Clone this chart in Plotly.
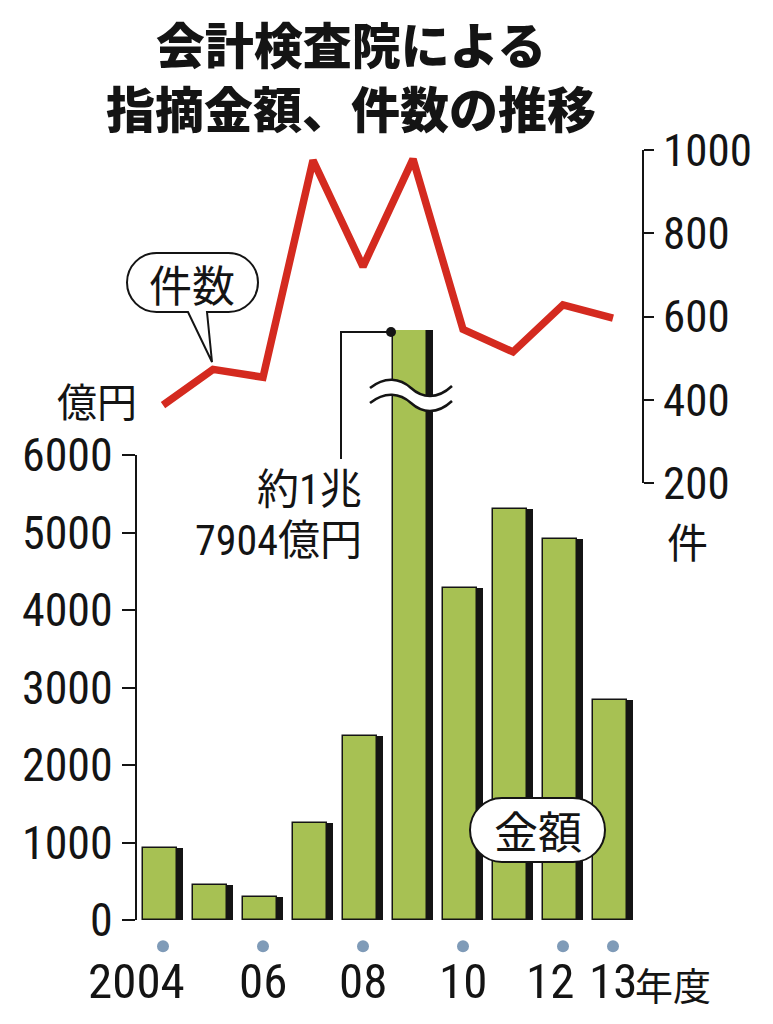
import plotly.graph_objects as go

# ---------------- data ----------------
years = [2004, 2005, 2006, 2007, 2008, 2009, 2010, 2011, 2012, 2013]
amount_oku_yen = [930, 450, 300, 1250, 2370, 17904, 4290, 5300, 4910, 2840]   # 指摘金額（億円）
case_counts = [387, 473, 454, 975, 720, 978, 569, 515, 628, 596]              # 件数
left_ticks = [0, 1000, 2000, 3000, 4000, 5000, 6000]
right_ticks = [200, 400, 600, 800, 1000]
dot_years = [2004, 2006, 2008, 2010, 2012, 2013]
x_label_years = [2004, 2006, 2008, 2010, 2012, 2013]
x_label_texts = ["2004", "06", "08", "10", "12", "13"]
title_lines = ["会計検査院による", "指摘金額、件数の推移"]

# ---------------- layout geometry (reference pixels) ----------------
W, H = 773, 1024
PL, PR, PT, PB = 136, 643, 140, 965     # plot area in reference pixels
ZERO_PX = 920                            # pixel row of value 0 on the amount axis
PAGE_OFF = 8                             # page body margin of the written html


def xp(px):
    return (px - PL) / (PR - PL)


def yp(py):
    return (PB - py) / (PB - PT)


NUM = ("Liberation Sans Narrow, Roboto Condensed, Noto Sans Condensed, Arial Narrow, "
       "DejaVu Sans Condensed, Noto Sans CJK JP, sans-serif")
CJK = "Noto Sans CJK JP, sans-serif"
INK = "#141414"
GREEN = "#a7c153"
RED = "#d42a1f"
DOT = "#7f9bb8"

bar_top_px = 330
px_per_1000 = 77.5
y_top = (ZERO_PX - bar_top_px) / px_per_1000 * 1000
y_bottom = -(PB - ZERO_PX) / px_per_1000 * 1000
px_per_case = (483 - 150) / 800.0
y2_bottom = 1000 - (PB - 150) / px_per_case
y2_top = 1000 + (150 - PT) / px_per_case

fig = go.Figure()

# bar shadow (black right edge)
fig.add_trace(go.Bar(
    x=years, y=amount_oku_yen, width=0.8, offset=-0.4,
    marker=dict(color=INK, line=dict(width=0)),
    xaxis="x", yaxis="y", showlegend=False, hoverinfo="skip"))
# bar body
fig.add_trace(go.Bar(
    x=years, y=amount_oku_yen, width=0.68, offset=-0.4,
    marker=dict(color=GREEN, line=dict(color=INK, width=1.5)),
    xaxis="x", yaxis="y", showlegend=False, name="金額"))
# dots under the year labels
fig.add_trace(go.Scatter(
    x=dot_years, y=[-340] * len(dot_years), mode="markers",
    marker=dict(color=DOT, size=12, line=dict(width=0)), cliponaxis=False,
    xaxis="x", yaxis="y", showlegend=False, hoverinfo="skip"))
# count line
fig.add_trace(go.Scatter(
    x=years, y=case_counts, mode="lines",
    line=dict(color=RED, width=7.5),
    xaxis="x", yaxis="y2", showlegend=False, name="件数"))

shapes = []
# left axis line (0-6000)
shapes.append(dict(type="line", xref="paper", yref="y", x0=0, x1=0, y0=0, y1=6000,
                   line=dict(color=INK, width=2)))
# right axis line (200-1000)
shapes.append(dict(type="line", xref="paper", yref="y2", x0=1, x1=1, y0=200, y1=1000,
                   line=dict(color=INK, width=2)))


def path_from(points_cmds):
    out = []
    for cmd, pts in points_cmds:
        if cmd == "Z":
            out.append("Z")
            continue
        coords = " ".join(f"{xp(a):.5f},{yp(b):.5f}" for a, b in pts)
        out.append(f"{cmd} {coords}")
    return " ".join(out)


# break mark on the 2009 bar
up = [(370, 388), (385, 376), (400, 378), (411, 388), (422, 398), (437, 400), (452, 386)]
dy = 15
lo = [(a, b + dy) for a, b in up]
fill_path = path_from([
    ("M", [up[0]]), ("C", up[1:4]), ("C", up[4:7]),
    ("L", [lo[6]]), ("C", [lo[5], lo[4], lo[3]]), ("C", [lo[2], lo[1], lo[0]]), ("Z", []),
])
shapes.append(dict(type="path", xref="paper", yref="paper", path=fill_path,
                   fillcolor="white", line=dict(width=0)))
for wave in (up, lo):
    shapes.append(dict(type="path", xref="paper", yref="paper",
                       path=path_from([("M", [wave[0]]), ("C", wave[1:4]), ("C", wave[4:7])]),
                       line=dict(color=INK, width=2.5)))

# leader line for the 2009 value
shapes.append(dict(type="path", xref="paper", yref="paper",
                   path=path_from([("M", [(341, 459)]), ("L", [(341, 332)]), ("L", [(391, 332)])]),
                   line=dict(color=INK, width=2)))
shapes.append(dict(type="circle", xref="paper", yref="paper",
                   x0=xp(386), x1=xp(396), y0=yp(337), y1=yp(327),
                   fillcolor=INK, line=dict(width=0)))

K = 0.5523


def pill(l, r, t, b, pointer=None):
    rad = (b - t) / 2.0
    k = K * rad
    cmds = [("M", [(l + rad, t)]), ("L", [(r - rad, t)]),
            ("C", [(r - rad + k, t), (r, t + rad - k), (r, t + rad)]),
            ("C", [(r, t + rad + k), (r - rad + k, b), (r - rad, b)])]
    if pointer:
        (bx1, tipx, tipy, bx0) = pointer
        cmds += [("L", [(bx1, b)]), ("L", [(tipx, tipy)]), ("L", [(bx0, b)])]
    cmds += [("L", [(l + rad, b)]),
             ("C", [(l + rad - k, b), (l, b - rad + k), (l, b - rad)]),
             ("C", [(l, t + rad - k), (l + rad - k, t), (l + rad, t)]),
             ("Z", [])]
    return path_from(cmds)


shapes.append(dict(type="path", xref="paper", yref="paper",
                   path=pill(127, 258, 253, 312, pointer=(207, 212, 362, 188)),
                   fillcolor="white", line=dict(color=INK, width=2)))
shapes.append(dict(type="path", xref="paper", yref="paper",
                   path=pill(470, 605, 798, 862),
                   fillcolor="white", line=dict(color=INK, width=2)))

annotations = []


def ann(text, px, py, size, family, xanchor="center", color=INK, weight=None, **kw):
    font = dict(size=size, family=family, color=color)
    if weight is not None:
        font["weight"] = weight
    annotations.append(dict(text=text, xref="paper", yref="paper", x=xp(px), y=yp(py),
                            xanchor=xanchor, yanchor="middle", showarrow=False,
                            font=font, **kw))


# title (two lines in one text block)
ann("<br>".join(title_lines), 351, 75, 49, CJK, weight=900)
# units
ann("億円", 97, 400, 40, CJK)
ann("件", 687, 540, 41, CJK)
# callouts
ann("件数", 192, 283, 43, CJK)
ann("金額", 538, 830, 44, CJK)
ann("約1兆", 364, 490, 42, NUM, xanchor="right")
ann("7904億円", 364, 540, 42, NUM, xanchor="right")

# x labels
x_shifts = [-27, 0, 0, 0, -13, 0]
for yr, txt, sh in zip(x_label_years, x_label_texts, x_shifts):
    annotations.append(dict(text=txt, xref="x", yref="paper", x=yr, y=yp(982),
                            xanchor="center", yanchor="middle", xshift=sh, showarrow=False,
                            font=dict(size=49, family=NUM, color=INK)))
ann("年度", 633, 984, 38, CJK, xanchor="left")

fig.update_layout(
    width=W, height=H,
    margin=dict(l=PL - PAGE_OFF, r=W - PR + PAGE_OFF, t=PT - PAGE_OFF, b=H - PB + PAGE_OFF,
                pad=0, autoexpand=False),
    paper_bgcolor="white", plot_bgcolor="rgba(0,0,0,0)",
    barmode="overlay", bargap=0,
    showlegend=False,
    xaxis=dict(range=[2003.46, 2013.6], showticklabels=False, ticks="", showline=False,
               showgrid=False, zeroline=False, fixedrange=True, automargin=False),
    yaxis=dict(domain=[0, (PB - bar_top_px) / (PB - PT)], range=[y_bottom, y_top],
               tickvals=left_ticks, ticktext=[str(v) for v in left_ticks],
               ticks="outside", ticklen=13, tickwidth=2, tickcolor=INK,
               tickfont=dict(size=46, family=NUM, color=INK),
               showline=False, showgrid=False, zeroline=False, anchor="x", automargin=False),
    yaxis2=dict(domain=[0, 1], range=[y2_bottom, y2_top], side="right", anchor="x",
                tickvals=right_ticks, ticktext=[str(v) for v in right_ticks],
                ticks="outside", ticklen=10, tickwidth=2, tickcolor=INK,
                tickfont=dict(size=45, family=NUM, color=INK),
                showline=False, showgrid=False, zeroline=False, automargin=False),
    shapes=shapes,
    annotations=annotations,
)

fig.write_html("out.html")
